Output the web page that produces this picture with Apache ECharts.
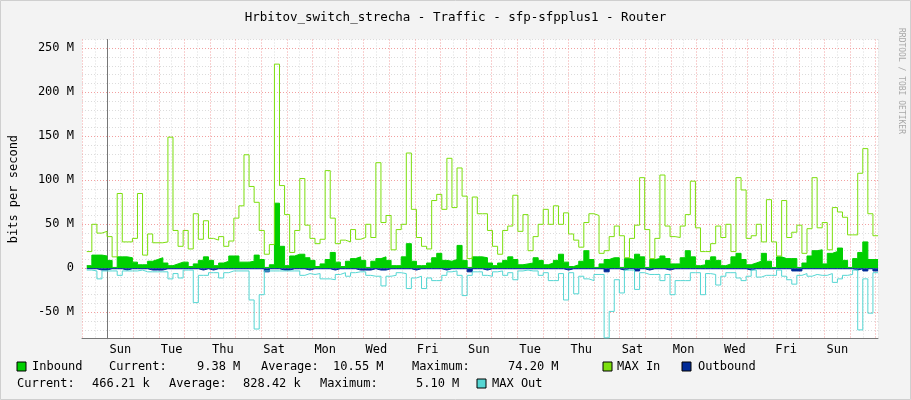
<!DOCTYPE html>
<html><head><meta charset="utf-8">
<script src="https://cdn.jsdelivr.net/npm/echarts@6/dist/echarts.min.js"></script>
<style>html,body{margin:0;padding:0;background:#f3f3f3}#c{width:911px;height:400px}</style>
</head><body><div id="c"></div>
<script>
const dayNames=['Sun','Mon','Tue','Wed','Thu','Fri','Sat'];
const yTickLabels=[-50,0,50,100,150,200,250];
const maxIn=[19,50,40,42,36,13,85,30,30,34,85,15,39,29,29,30,149,43,25,43,22,62,33,54,34,32,36,25,31,57,71,129,93,75,43,16,27,232,94,61,18,43,102,49,34,28,33,111,57,28,32,30,44,33,35,50,35,120,52,60,21,44,50,131,67,35,25,22,77,84,67,125,69,114,82,11,81,62,
62,43,25,16,43,48,83,42,61,20,36,50,67,50,71,50,63,39,32,24,52,62,60,17,20,36,48,37,12,34,49,103,44,11,34,106,48,36,35,48,61,99,46,19,19,28,48,35,50,19,103,89,34,37,50,30,78,30,14,77,35,41,49,17,45,103,46,52,21,69,64,58,38,38,108,136,62,37];
const inbound=[3,15,15,14,9,1,13,13,12,7,4,4,8,10,12,6,3,5,7,7,2,5,9,13,9,3,6,8,14,14,7,7,8,15,10,1,4,74,25,3,14,16,16,12,9,2,5,10,18,7,2,8,11,13,9,1,8,11,13,9,3,3,13,28,8,3,3,6,12,17,9,8,10,26,9,1,13,13,
12,6,3,6,9,13,10,4,5,6,12,9,4,6,9,16,7,2,4,8,20,10,1,5,10,12,12,1,11,10,16,13,1,10,11,14,11,5,5,12,20,13,3,4,9,13,9,3,5,13,17,10,4,6,8,17,8,1,13,11,11,11,1,6,14,20,21,5,17,19,23,9,1,11,18,30,10,10];
const maxOut=[2,3,12,3,3,3,8,3,3,3,2,4,4,4,4,4,12,6,11,2,2,39,8,8,5,5,11,5,3,3,3,3,36,69,30,3,3,3,3,3,3,3,8,6,7,6,12,12,13,7,5,9,5,4,4,8,9,9,20,9,8,5,6,23,11,9,23,11,14,14,8,4,3,8,31,8,4,4,
8,9,4,3,8,5,13,3,2,3,3,8,5,14,14,6,36,5,29,9,12,14,7,7,79,49,13,28,2,2,24,5,7,7,7,14,7,30,14,14,14,5,5,30,6,7,19,9,5,5,11,14,9,2,10,8,8,8,2,9,13,18,8,6,9,7,8,8,6,16,12,8,7,2,70,12,51,5];
const outbound=[0.5,0.5,2,2,0.5,0.5,0.5,2,0.5,0.5,0.5,0.5,2,2,2,0.5,0.5,0.5,0.5,0.5,0.5,0.5,2,0.5,2,0.5,0.5,0.5,0.5,0.5,0.5,0.5,0.5,0.5,0.5,4,0.5,0.5,2,2,0.5,0.5,0.5,2,0.5,0.5,0.5,0.5,2,0.5,0.5,0.5,0.5,2,2,2,0.5,2,2,0.5,0.5,0.5,0.5,0.5,2,0.5,0.5,0.5,0.5,0.5,2,0.5,0.5,0.5,0.5,4,0.5,0.5,
2,0.5,0.5,0.5,0.5,0.5,0.5,0.5,0.5,0.5,0.5,0.5,0.5,0.5,0.5,0.5,2,0.5,0.5,0.5,0.5,0.5,0.5,0.5,4,0.5,0.5,2,0.5,0.5,3,0.5,2,0.5,0.5,0.5,2,0.5,0.5,0.5,0.5,0.5,0.5,0.5,0.5,0.5,0.5,0.5,0.5,0.5,0.5,0.5,2,0.5,0.5,0.5,0.5,0.5,0.5,0.5,0.5,3,3,0.5,0.5,0.5,0.5,0.5,0.5,0.5,0.5,0.5,0.5,2,0.5,3,0.5,3];
const xStart=-0.814, xEnd=30.09;
const step=(xEnd-xStart)/maxIn.length;
function pts(arr,sign){const d=arr.map((v,i)=>[xStart+i*step,sign*v]);d.push([xEnd,sign*arr[arr.length-1]]);return d;}
const chart=echarts.init(document.getElementById('c'));
const mono='DejaVu Sans Mono';
const G='#dcdcdc',R='#f2a0a0';
function ln(name,data,color,area){return {name,type:'line',step:'end',data,symbol:'none',silent:true,animation:false,
 lineStyle:{width:1,color},itemStyle:{color},areaStyle:area?{color,opacity:1,origin:0}:undefined};}
const T=(x,y,t,extra)=>Object.assign({type:'text',left:x,top:y,style:{text:t,font:'12px '+mono,fill:'#000'}},extra||{});
const S=(x,y,c)=>({type:'rect',shape:{x:x,y:y,width:9,height:9},style:{fill:c,stroke:'#000',lineWidth:1}});
chart.setOption({
 backgroundColor:'#f3f3f3',animation:false,
 title:{text:'Hrbitov_switch_strecha - Traffic - sfp-sfpplus1 - Router',left:'center',top:6,textStyle:{fontFamily:mono,fontSize:12.5,fontWeight:'normal',color:'#000'}},
 grid:{left:76.2,right:33,top:39.5,bottom:61.3,backgroundColor:'#fff',show:true,borderWidth:0},
 xAxis:{type:'value',min:-1,max:xEnd,interval:0.5,
  axisLine:{lineStyle:{color:'#777'},onZero:false},axisTick:{show:false},
  axisLabel:{fontFamily:mono,fontSize:12,color:'#000',margin:5,showMaxLabel:false,showMinLabel:false,
   formatter:v=>{const d=v-0.5;if(Math.abs(d/2-Math.round(d/2))<1e-6&&d>=0)return dayNames[Math.round(d)%7];return '';}},
  splitLine:{show:true,lineStyle:{type:[1,2],color:[R,G],width:1}}},
 yAxis:{type:'value',min:-80,max:260,interval:10,name:'bits per second',nameLocation:'middle',nameGap:62,
  nameTextStyle:{fontFamily:mono,fontSize:12,color:'#000'},
  axisLine:{show:true,lineStyle:{color:'#777'}},axisTick:{show:false},
  axisLabel:{fontFamily:mono,fontSize:12,color:'#000',margin:8,
   formatter:v=>yTickLabels.includes(v)?(v===0?'0':v+' M'):''},
  splitLine:{show:true,lineStyle:{type:[1,2],color:[G,G,G,R,G],width:1}}},
 series:[ln('Inbound',pts(inbound,1),'#00CF00',true),ln('MAX In',pts(maxIn,1),'#7CDF0E',false),
  ln('Outbound',pts(outbound,-1),'#002A97',true),ln('MAX Out',pts(maxOut,-1),'#55D6D3',false)],
 graphic:[
  {type:'rect',shape:{x:0.5,y:0.5,width:910,height:399},style:{fill:'none',stroke:'#cfcfcf',lineWidth:1}},
  {type:'text',left:897,top:28,rotation:-Math.PI/2,style:{text:'RRDTOOL / TOBI OETIKER',font:'8px '+mono,fill:'#a8a8a8'}},
  S(17,362,'#00CF00'),T(32,361,'Inbound'),T(109,361,'Current:'),T(197,361,'9.38 M'),T(261,361,'Average:'),T(333,361,'10.55 M'),T(412,361,'Maximum:'),T(508,361,'74.20 M'),
  S(603,362,'#7CDF0E'),T(617,361,'MAX In'),S(682,362,'#002A97'),T(698,361,'Outbound'),
  T(17,378,'Current:'),T(92,378,'466.21 k'),T(169,378,'Average:'),T(243,378,'828.42 k'),T(320,378,'Maximum:'),T(416,378,'5.10 M'),
  S(477,379,'#55D6D3'),T(492,378,'MAX Out')
 ]
});
</script></body></html>
